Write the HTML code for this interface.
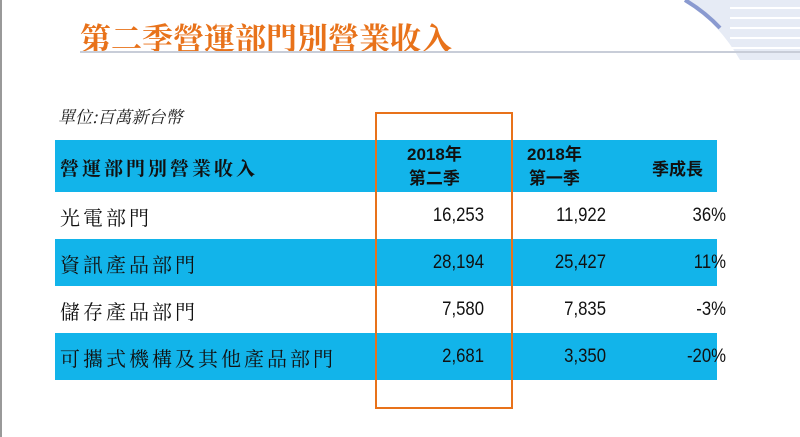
<!DOCTYPE html>
<html><head><meta charset="utf-8"><style>
body{margin:0;width:800px;height:437px;background:#fff;position:relative;overflow:hidden;font-family:"Liberation Sans","Noto Sans CJK TC",sans-serif}
.a{position:absolute}
.cjk{font-family:"Noto Serif CJK SC","Noto Sans CJK TC",serif}
.band{position:absolute;left:55px;width:662px;background:#12b4ea}
.n{position:absolute;font-size:19px;color:#111;text-align:right;width:120px;transform:scaleX(0.88);transform-origin:right}
.l{position:absolute;left:60px;font-size:20px;color:#111;letter-spacing:3px}
</style></head><body>
<div class="a" style="left:0;top:0;width:2px;height:437px;background:#999"></div>
<svg class="a" style="left:660px;top:0" width="140" height="60">
<path d="M25 0 Q60 25 80 60 L140 60 L140 0Z" fill="#e6ebf5"/>
<path d="M25 0 Q45 12 60 28" stroke="#8a9ad0" stroke-width="4" fill="none"/>
<g stroke="#fff" stroke-width="2"><line x1="70" y1="8" x2="140" y2="8"/><line x1="70" y1="18" x2="140" y2="18"/><line x1="70" y1="28" x2="140" y2="28"/><line x1="70" y1="38" x2="140" y2="38"/><line x1="70" y1="48" x2="140" y2="48"/></g>
</svg>
<div class="a cjk" style="left:80px;top:14px;font-size:31px;color:#e8721a;font-weight:bold">第二季營運部門別營業收入</div>
<div class="a" style="left:80px;top:51px;width:720px;height:2px;background:#c8cdd8"></div>
<div class="a cjk" style="left:58px;top:103px;font-size:17px;font-style:italic;color:#222">單位:百萬新台幣</div>
<div class="band" style="top:140px;height:52px"></div>
<div class="band" style="top:239px;height:47px"></div>
<div class="band" style="top:333px;height:47px"></div>
<div class="l cjk" style="top:154px;font-weight:bold;font-size:19px">營運部門別營業收入</div>
<div class="a" style="left:407px;top:143px;font-size:17px;font-weight:bold;text-align:center;line-height:24px;color:#111">2018年<br>第二季</div>
<div class="a" style="left:527px;top:143px;font-size:17px;font-weight:bold;text-align:center;line-height:24px;color:#111">2018年<br>第一季</div>
<div class="a" style="left:652px;top:155px;font-size:17px;font-weight:bold;color:#111">季成長</div>
<div class="l cjk" style="top:202px">光電部門</div>
<div class="l cjk" style="top:249px">資訊產品部門</div>
<div class="l cjk" style="top:296px">儲存產品部門</div>
<div class="l cjk" style="top:343px">可攜式機構及其他產品部門</div>
<div class="n" style="left:364px;top:205px">16,253</div><div class="n" style="left:486px;top:205px">11,922</div><div class="n" style="left:606px;top:205px">36%</div>
<div class="n" style="left:364px;top:252px">28,194</div><div class="n" style="left:486px;top:252px">25,427</div><div class="n" style="left:606px;top:252px">11%</div>
<div class="n" style="left:364px;top:299px">7,580</div><div class="n" style="left:486px;top:299px">7,835</div><div class="n" style="left:606px;top:299px">-3%</div>
<div class="n" style="left:364px;top:346px">2,681</div><div class="n" style="left:486px;top:346px">3,350</div><div class="n" style="left:606px;top:346px">-20%</div>
<div class="a" style="left:375px;top:112px;width:134px;height:293px;border:2px solid #e8721a"></div>
</body></html>
